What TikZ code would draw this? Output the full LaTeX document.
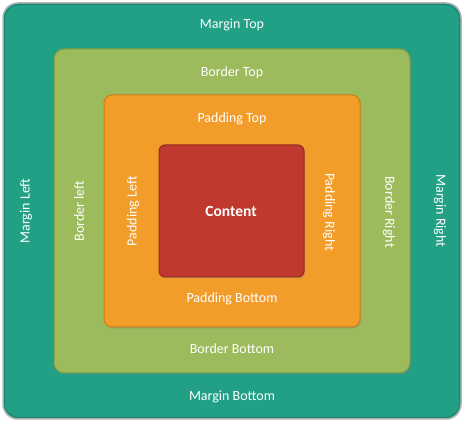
\documentclass[tikz,border=0pt]{standalone}
\usepackage{fontspec}
\setmainfont{Carlito}
\usepackage{tikz}
\usetikzlibrary{shadows}

\definecolor{margincol}{HTML}{21A086}
\definecolor{margindark}{HTML}{1B7F6B}
\definecolor{bordercol}{HTML}{9BBB5C}
\definecolor{borderdark}{HTML}{7C9944}
\definecolor{paddingcol}{HTML}{F29C2A}
\definecolor{paddingdark}{HTML}{D17D12}
\definecolor{contentcol}{HTML}{C0392F}
\definecolor{contentdark}{HTML}{952A22}

\tikzset{
  boxlabel/.style={text=white, inner sep=0pt, font=\fontsize{14}{17}\selectfont},
  boxshadow/.style={drop shadow={shadow xshift=1pt, shadow yshift=-1.5pt, opacity=0.35}}
}

\begin{document}
\begin{tikzpicture}[x=1pt,y=-1pt]

  \useasboundingbox (0,0) rectangle (464,422);

  \draw[line width=1.5pt, draw=black!30, fill=margincol, rounded corners=15pt] (3,3) rectangle (461,419);
  \draw[line width=0.8pt, draw=margindark, rounded corners=14pt] (4.5,4.5) rectangle (459.5,417.5);
  \draw[boxshadow, line width=1pt, draw=borderdark, fill=bordercol, rounded corners=10pt] (54,49) rectangle (410,373);
  \draw[boxshadow, line width=1pt, draw=paddingdark, fill=paddingcol, rounded corners=8pt] (104,95) rectangle (360,327);
  \draw[boxshadow, line width=1pt, draw=contentdark, fill=contentcol, rounded corners=6pt] (159,145) rectangle (304,277);

  \node[boxlabel] (mt) at (232,25) {Margin Top};
  \node[boxlabel] (bt) at (232,73) {Border Top};
  \node[boxlabel] (pt) at (232,119) {Padding Top};
  \node[boxlabel, font=\fontsize{15.5}{18}\selectfont\bfseries] (ct) at (231,211) {Content};
  \node[boxlabel] (pb) at (232,299) {Padding Bottom};
  \node[boxlabel] (bb) at (232,349) {Border Bottom};
  \node[boxlabel] (mb) at (232,397) {Margin Bottom};

  \node[boxlabel, rotate=90] (ml) at (26,211) {Margin Left};
  \node[boxlabel, rotate=90] (bl) at (79,211) {Border left};
  \node[boxlabel, rotate=90] (pl) at (133,211) {Padding Left};
  \node[boxlabel, rotate=-90] (pr) at (329,212) {Padding Right};
  \node[boxlabel, rotate=-90] (br) at (389,212) {Border Right};
  \node[boxlabel, rotate=-90] (mr) at (440,211) {Margin Right};

\end{tikzpicture}
\end{document}
